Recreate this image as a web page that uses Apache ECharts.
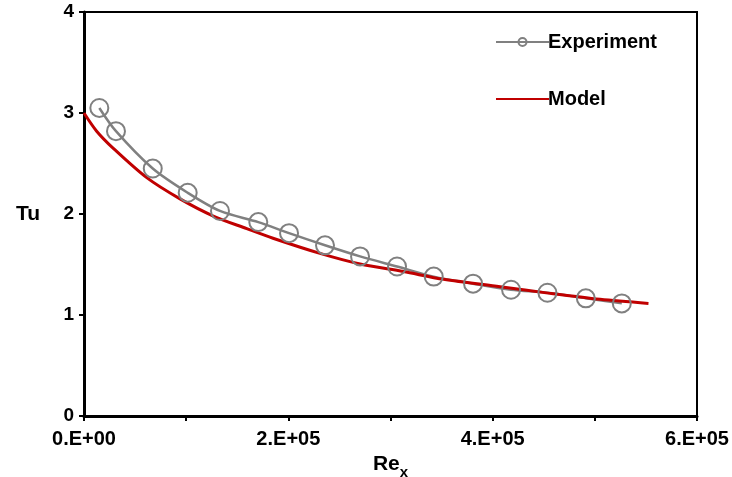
<!DOCTYPE html>
<html>
<head>
<meta charset="utf-8">
<script src="https://cdn.jsdelivr.net/npm/echarts@6/dist/echarts.min.js"></script>
<style>html,body{margin:0;padding:0;background:#fff}#c{width:732px;height:477px}</style>
</head>
<body>
<div id="c"></div>
<script>
var expRe = [15000, 31300, 67300, 101500, 133100, 170600, 200700, 235900, 270200, 306400, 342300, 380800, 418000, 453600, 491200, 526400];
var expTu = [3.05, 2.82, 2.45, 2.21, 2.03, 1.92, 1.81, 1.69, 1.58, 1.48, 1.38, 1.31, 1.25, 1.22, 1.165, 1.115];
var modelRe = [0, 12400, 28700, 61400, 94000, 126600, 159300, 185000, 231000, 270200, 312600, 352000, 407300, 456200, 505200, 552500];
var modelTu = [3.0, 2.82, 2.65, 2.36, 2.15, 1.98, 1.855, 1.76, 1.61, 1.505, 1.43, 1.353, 1.28, 1.214, 1.155, 1.115];
var xTickLabels = {0: '0.E+00', 200000: '2.E+05', 400000: '4.E+05', 600000: '6.E+05'};

function pairs(a, b) { return a.map(function (v, i) { return [v, b[i]]; }); }

var chart = echarts.init(document.getElementById('c'));
var font = 'Liberation Sans, Arial, sans-serif';
chart.setOption({
  animation: false,
  backgroundColor: '#fff',
  textStyle: { fontFamily: font },
  grid: { left: 84, right: 35, top: 12, bottom: 61, show: true, borderColor: '#000', borderWidth: 2,
    backgroundColor: 'transparent', containLabel: false, outerBoundsMode: 'none' },
  legend: {
    orient: 'vertical', left: 490, top: 27,
    itemWidth: 53, itemHeight: 10, itemGap: 37,
    textStyle: { fontFamily: font, fontWeight: 'bold', fontSize: 20, color: '#000', padding: [0, 0, 0, -6], lineHeight: 20 },
    data: ['Experiment', { name: 'Model', itemStyle: { opacity: 0 } }]
  },
  xAxis: {
    type: 'value', min: 0, max: 600000, interval: 200000,
    splitLine: { show: false },
    axisLine: { onZero: false, lineStyle: { color: '#000', width: 3 } },
    axisTick: { show: true, inside: false, length: 5, lineStyle: { color: '#000', width: 2 } },
    minorTick: { show: true, splitNumber: 2, length: 5, lineStyle: { color: '#000', width: 2 } },
    minorSplitLine: { show: false },
    axisLabel: { fontFamily: font, fontWeight: 'bold', fontSize: 20, color: '#000', margin: 13,
      formatter: function (v) { return xTickLabels[v] || ''; } },
    name: '{a|Re}{b|x}', nameLocation: 'middle', nameGap: 32,
    nameTextStyle: { rich: {
      a: { fontFamily: font, fontWeight: 'bold', fontSize: 21, color: '#000' },
      b: { fontFamily: font, fontWeight: 'bold', fontSize: 15, color: '#000', verticalAlign: 'bottom', padding: [0, 0, -5, 0] }
    } }
  },
  yAxis: {
    type: 'value', min: 0, max: 4, interval: 1,
    splitLine: { show: false },
    axisLine: { onZero: false, lineStyle: { color: '#000', width: 3 } },
    axisTick: { show: true, inside: false, length: 5, lineStyle: { color: '#000', width: 2 } },
    axisLabel: { fontFamily: font, fontWeight: 'bold', fontSize: 19, color: '#000', margin: 10 },
    name: 'Tu', nameLocation: 'middle', nameGap: 44, nameRotate: 0,
    nameTextStyle: { fontFamily: font, fontWeight: 'bold', fontSize: 21, color: '#000' }
  },
  series: [
    {
      name: 'Experiment', type: 'line', data: pairs(expRe, expTu), smooth: 0.3,
      symbol: 'circle', symbolSize: 18, showAllSymbol: true,
      lineStyle: { color: '#808080', width: 2.5 },
      itemStyle: { color: 'rgba(255,255,255,0)', borderColor: '#808080', borderWidth: 2 }
    },
    {
      name: 'Model', type: 'line', data: pairs(modelRe, modelTu), smooth: 0.3,
      symbol: 'none', showSymbol: false,
      lineStyle: { color: '#C00000', width: 3 },
      itemStyle: { color: '#C00000' }
    }
  ]
});
</script>
</body>
</html>
